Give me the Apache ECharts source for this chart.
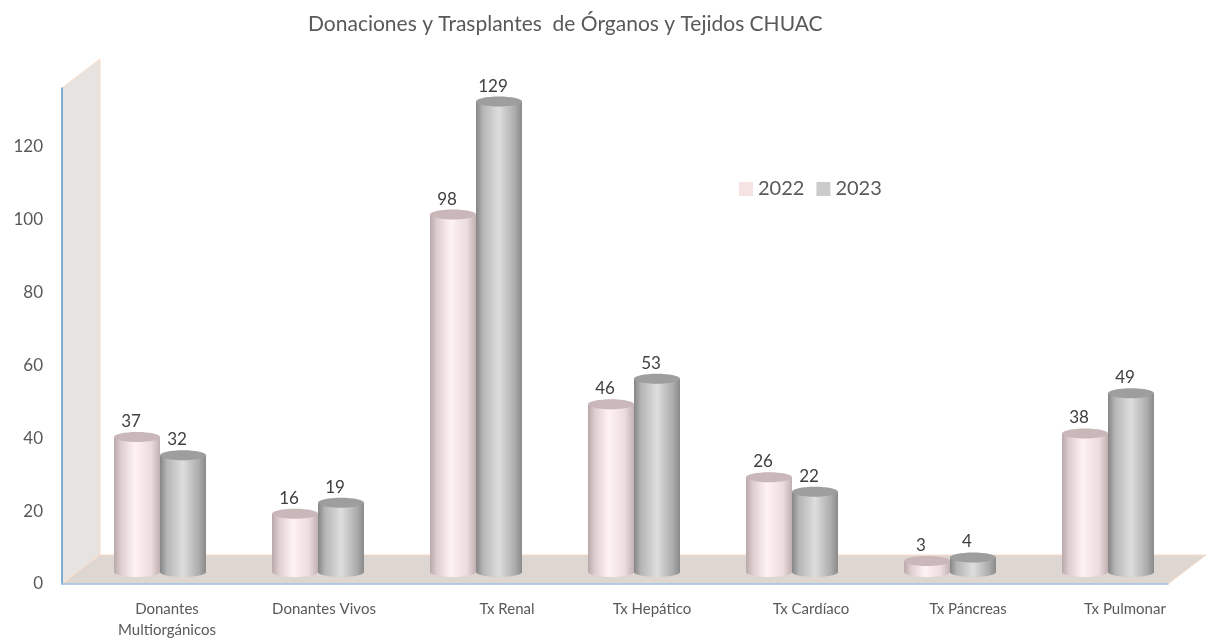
<!DOCTYPE html>
<html>
<head>
<meta charset="utf-8">
<script src="https://cdn.jsdelivr.net/npm/echarts@6/dist/echarts.min.js"></script>
<style>
  html, body { margin: 0; padding: 0; background: #fff; }
  #chart { width: 1215px; height: 642px; }
</style>
</head>
<body>
<div id="chart"></div>
<script>
// data
const categories = ['Donantes\nMultiorgánicos', 'Donantes Vivos', 'Tx Renal', 'Tx Hepático', 'Tx Cardíaco', 'Tx Páncreas', 'Tx Pulmonar'];
const years = ['2022', '2023'];
const data2022 = [37, 16, 98, 46, 26, 3, 38];
const data2023 = [32, 19, 129, 53, 22, 4, 49];

const FONT = 'Lato';
// depth of the 3d box (back wall offset) and where the bars stand in it
const DEPTH_X = 38, DEPTH_Y = -29;
const BAR_DX = 19, BAR_DY = -12;
const BAR_W = 46, RY = 5;
// excel puts the category labels a bit right of the front band centre
const labelNudge = [26, 25, 50, 37, 38, 37, 36];

function makeGrad(stops) {
    return new echarts.graphic.LinearGradient(0, 0, 1, 0, stops.map(function (c) {
        return { offset: c[0], color: c[1] };
    }));
}

const styles = {
    '2022': {
        body: [[0, '#b9a8aa'], [0.15, '#decdcf'], [0.45, '#fff2f2'], [0.8, '#ecdcdd'], [1, '#c2b1b3']],
        top: '#c9b7b9',
        legend: '#f6e4e4'
    },
    '2023': {
        body: [[0, '#858585'], [0.15, '#b5b5b5'], [0.5, '#dedede'], [0.85, '#ababab'], [1, '#8a8a8a']],
        top: '#9e9e9e',
        legend: '#cbcbcb'
    }
};

function cylinder(year, side) {
    return function (params, api) {
        const i = api.value(0), v = api.value(1);
        const top = api.coord([i, v]);
        const base = api.coord([i, 0]);
        const cx = top[0] + BAR_DX + side * BAR_W / 2;
        const ty = top[1] + BAR_DY;
        const by = base[1] + BAR_DY;
        const rx = BAR_W / 2;
        const st = styles[year];
        return {
            type: 'group',
            children: [
                { type: 'ellipse', shape: { cx: cx, cy: by, rx: rx, ry: RY }, style: { fill: makeGrad(st.body) } },
                { type: 'rect', shape: { x: cx - rx, y: ty, width: BAR_W, height: by - ty }, style: { fill: makeGrad(st.body) } },
                { type: 'ellipse', shape: { cx: cx, cy: ty, rx: rx, ry: RY }, style: { fill: st.top } },
                {
                    type: 'text',
                    style: {
                        text: String(v), x: cx - 6, y: ty - RY - 2, align: 'center', verticalAlign: 'bottom',
                        fill: '#404040', font: '17px ' + FONT
                    }
                }
            ]
        };
    };
}

// back wall + floor, built from the grid rectangle
function renderBox(params, api) {
    const cs = params.coordSys;
    const x0 = cs.x, y0 = cs.y, x1 = cs.x + cs.width, y1 = cs.y + cs.height;
    return {
        type: 'group',
        children: [
            {
                type: 'polygon',
                shape: { points: [[x0, y0], [x0 + DEPTH_X, y0 + DEPTH_Y], [x0 + DEPTH_X, y1 + DEPTH_Y], [x0, y1]] },
                style: { fill: '#e7e3e0', stroke: '#fbdcc6', lineWidth: 1 }
            },
            {
                type: 'polygon',
                shape: { points: [[x0, y1], [x0 + DEPTH_X, y1 + DEPTH_Y], [x1 + DEPTH_X, y1 + DEPTH_Y], [x1, y1]] },
                style: { fill: '#ddd6d1', stroke: '#fbdcc6', lineWidth: 1 }
            }
        ]
    };
}

const chart = echarts.init(document.getElementById('chart'));
chart.setOption({
    animation: false,
    title: {
        text: 'Donaciones y Trasplantes  de Órganos y Tejidos CHUAC',
        left: 303,
        top: 9,
        textStyle: { fontFamily: FONT, fontSize: 21, fontWeight: 'normal', color: '#595959' }
    },
    legend: {
        data: years,
        left: 734,
        top: 174,
        icon: 'rect',
        itemWidth: 14,
        itemHeight: 14,
        itemGap: 12,
        textStyle: { fontFamily: FONT, fontSize: 20, color: '#595959' }
    },
    grid: { left: 62, right: 47, top: 88, bottom: 58 },
    xAxis: {
        type: 'category',
        z: 10,
        data: categories.map(function (c, i) {
            return { value: c, textStyle: { padding: [0, 0, 0, labelNudge[i] * 2] } };
        }),
        axisLine: { lineStyle: { color: '#9dc3e6', width: 1.5 } },
        axisTick: { show: false },
        axisLabel: {
            interval: 0,
            fontFamily: FONT,
            fontSize: 15,
            color: '#595959',
            margin: 15,
            lineHeight: 21
        }
    },
    yAxis: {
        type: 'value',
        z: 10,
        min: 0,
        max: 136,
        interval: 20,
        axisLine: { show: true, lineStyle: { color: '#5b9bd5', width: 1.5 } },
        axisTick: { show: false },
        splitLine: { show: false },
        axisLabel: {
            fontFamily: FONT,
            fontSize: 17,
            color: '#595959',
            margin: 19,
            formatter: function (v) { return v % 20 ? '' : v; }
        }
    },
    series: [
        {
            type: 'custom',
            name: 'box',
            renderItem: renderBox,
            data: [[0, 0]],
            z: 1,
            silent: true
        },
        {
            type: 'custom',
            name: '2022',
            renderItem: cylinder('2022', -1),
            itemStyle: { color: styles['2022'].legend },
            data: data2022.map(function (v, i) { return [i, v]; }),
            z: 3
        },
        {
            type: 'custom',
            name: '2023',
            renderItem: cylinder('2023', 1),
            itemStyle: { color: styles['2023'].legend },
            data: data2023.map(function (v, i) { return [i, v]; }),
            z: 4
        }
    ]
});
</script>
</body>
</html>
